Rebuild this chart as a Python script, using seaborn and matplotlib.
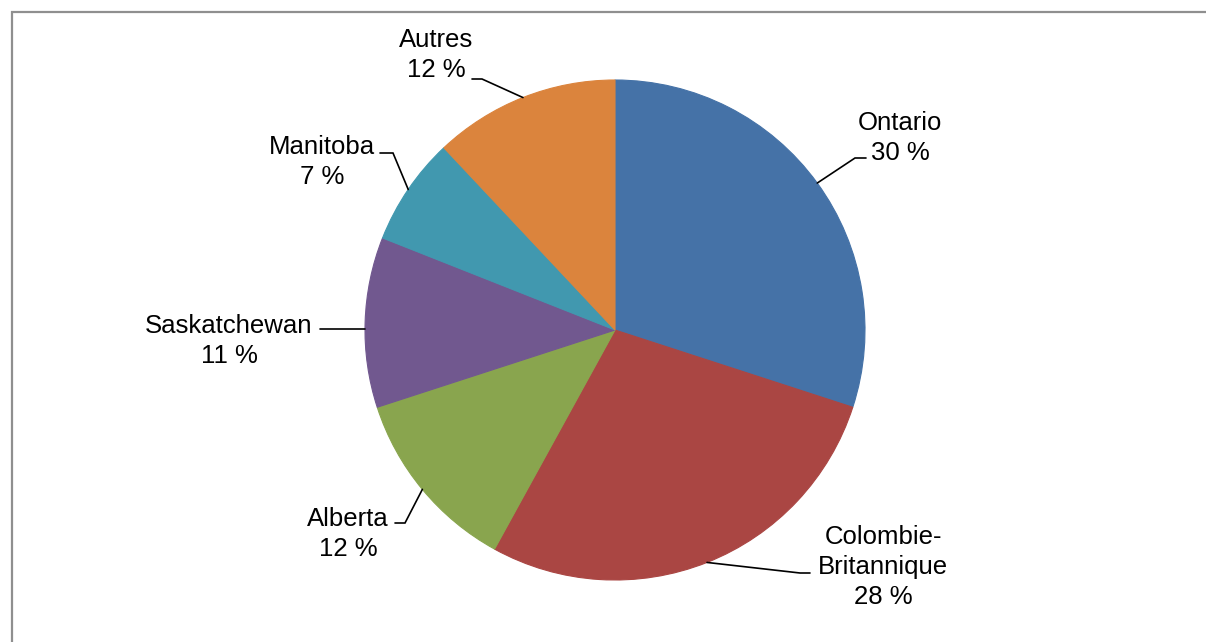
import numpy as np
import matplotlib
matplotlib.use("Agg")
import matplotlib.pyplot as plt
import seaborn as sns

# --- données du graphique ---
provinces = ["Ontario", "Colombie-\nBritannique", "Alberta", "Saskatchewan", "Manitoba", "Autres"]
parts = [30, 28, 12, 11, 7, 12]
couleurs = ["#4572A7", "#AA4643", "#89A54E", "#71588F", "#4198AF", "#DB843D"]

# --- mise en page (pixels, origine en haut à gauche) ---
W, H = 1206, 642
centre_px = (615, 330)
rayon_px = 250
# centre de chaque étiquette
pos_etiquettes = [(900, 138), (883, 567), (348, 534), (229, 341), (322, 162), (436, 55)]
# coude et extrémité de chaque ligne de repère (None = ligne droite horizontale)
coudes = [(855, 158), (800, 573), (405, 523), None, (393, 153), (482, 79)]
bouts = [(866, 158), (810, 573), (395, 523), (320, 329), (380, 153), (472, 79)]

sns.set_style("white")
plt.rcParams["font.family"] = ["Liberation Sans", "DejaVu Sans"]


def py(y):
    # pixels (haut) -> coordonnées matplotlib (bas)
    return H - y


fig = plt.figure(figsize=(W / 100, H / 100), dpi=100)
ax = fig.add_axes([0, 0, 1, 1])

wedges, _ = ax.pie(
    parts,
    colors=sns.color_palette(couleurs),
    startangle=90,
    counterclock=False,
    center=(centre_px[0], py(centre_px[1])),
    radius=rayon_px,
    wedgeprops=dict(linewidth=0.8),
)
for w in wedges:
    w.set_edgecolor(w.get_facecolor())

ax.set_xlim(0, W)
ax.set_ylim(0, H)
ax.set_aspect("equal")
ax.axis("off")

# étiquettes + lignes de repère
for w, nom, p, (tx, ty), coude, (bx, by) in zip(
        wedges, provinces, parts, pos_etiquettes, coudes, bouts):
    cx0, cy0 = w.center
    if coude is None:
        # ligne horizontale jusqu'au bord du cercle
        dy = py(by) - cy0
        x0 = cx0 - np.sqrt(w.r ** 2 - dy ** 2)
        xs, ys = [x0, bx], [py(by), py(by)]
    else:
        ang = np.deg2rad((w.theta1 + w.theta2) / 2)
        x0 = cx0 + w.r * np.cos(ang)
        y0 = cy0 + w.r * np.sin(ang)
        xs, ys = [x0, coude[0], bx], [y0, py(coude[1]), py(by)]
    ax.plot(xs, ys, color="black", lw=1.2, solid_joinstyle="miter")
    ax.text(tx, py(ty), f"{nom}\n{p} %", ha="center", va="center",
            multialignment="center", fontsize=18.5, linespacing=1.3,
            color="black")

# cadre gris de la zone de graphique (rogné à droite et en bas)
ax.plot([12, 12, W + 5], [-5, py(12), py(12)], color="#8f8f8f", lw=1.6,
        solid_joinstyle="miter", clip_on=False)

fig.savefig("out.png", dpi=100)
